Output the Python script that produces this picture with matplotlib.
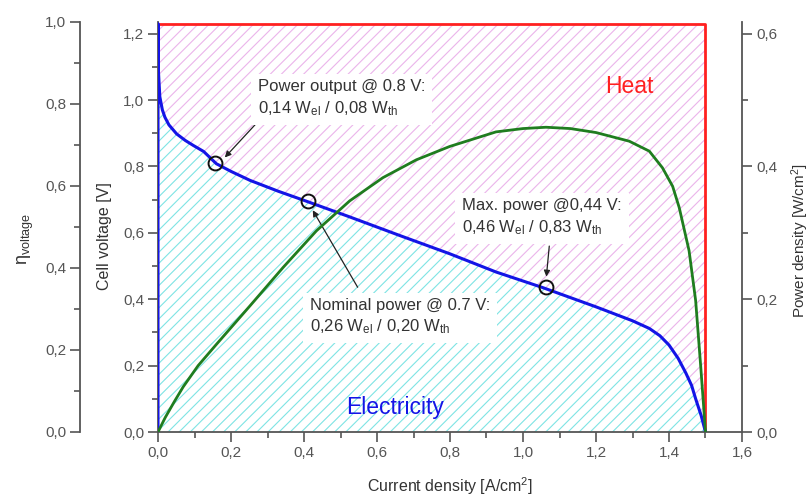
import matplotlib
matplotlib.use('Agg')
import numpy as np
import matplotlib.pyplot as plt
from matplotlib.ticker import MultipleLocator, FuncFormatter

plt.rcParams['font.family'] = ['Liberation Sans', 'DejaVu Sans']
plt.rcParams['mathtext.fontset'] = 'custom'
plt.rcParams['mathtext.rm'] = 'Liberation Sans'
plt.rcParams['mathtext.it'] = 'Liberation Sans:italic'
plt.rcParams['hatch.linewidth'] = 0.8

# ---- data ----
E_rev = 1.23          # reversible cell voltage [V]
i_limit = 1.5         # limiting current density [A/cm2]

current = [0.0, 0.001, 0.005, 0.012, 0.019, 0.03, 0.051, 0.075, 0.097, 0.125, 0.16,
           0.2, 0.252, 0.33, 0.407, 0.525, 0.662, 0.799, 0.926, 1.054, 1.2,
           1.3, 1.346, 1.375, 1.4, 1.425, 1.446, 1.462, 1.473, 1.488, 1.5]
voltage = [1.23, 1.09, 1.01, 0.97, 0.948, 0.925, 0.898, 0.878, 0.863, 0.845, 0.808,
           0.785, 0.758, 0.725, 0.695, 0.648, 0.592, 0.537, 0.482, 0.435, 0.377,
           0.335, 0.312, 0.29, 0.262, 0.222, 0.178, 0.14, 0.1, 0.05, 0.0]

current_p = [0.0, 0.02, 0.045, 0.069, 0.11, 0.16, 0.252, 0.343, 0.434, 0.525, 0.616, 0.708,
             0.799, 0.926, 1.0, 1.063, 1.13, 1.2, 1.291, 1.346, 1.382, 1.41, 1.428, 1.455,
             1.473, 1.487, 1.5]
power = [0.0, 0.022, 0.046, 0.068, 0.1, 0.132, 0.19, 0.248, 0.303, 0.348, 0.383, 0.41,
         0.43, 0.452, 0.457, 0.459, 0.457, 0.451, 0.438, 0.423, 0.398, 0.37, 0.338, 0.273,
         0.198, 0.098, 0.0]

marker_i = [0.156, 0.41, 1.062]
marker_v = [0.809, 0.695, 0.436]

notes = ["Power output @ 0.8 V:\n0,14 W$_{\\mathrm{el}}$ / 0,08 W$_{\\mathrm{th}}$",
         "Nominal power @ 0.7 V:\n0,26 W$_{\\mathrm{el}}$ / 0,20 W$_{\\mathrm{th}}$",
         "Max. power @0,44 V:\n0,46 W$_{\\mathrm{el}}$ / 0,83 W$_{\\mathrm{th}}$"]

# ---- styles ----
gray = '#555555'
blue = '#1414e6'
green = '#1f7d1f'
red = '#ff2020'
cyan = '#7ee4e4'
pink = '#ebb4eb'

fig = plt.figure(figsize=(8.12, 4.97), dpi=100)
ax = fig.add_axes([158/812, 65/497, 584/812, 410/497])

ax.fill_between(current, 0, voltage, facecolor='none', edgecolor=cyan,
                hatch='///', linewidth=0)
ax.fill_between(current, voltage, E_rev, facecolor='none', edgecolor=pink,
                hatch='///', linewidth=0)

ax.plot([0, i_limit, i_limit], [E_rev, E_rev, 0], color=red, lw=2.0, zorder=3)
ax.plot([0] + current, [0] + voltage, color=blue, lw=2.2, zorder=4)
ax.plot(marker_i, marker_v, 'o', mfc='none', mec='#111111', ms=10, mew=1.4, zorder=6)

fmt = FuncFormatter(lambda v, p: f"{v:.1f}".replace('.', ','))

ax.set_xlim(0, 1.6)
ax.set_ylim(0, 1.235)
ax.xaxis.set_major_locator(MultipleLocator(0.2))
ax.xaxis.set_minor_locator(MultipleLocator(0.1))
ax.yaxis.set_major_locator(MultipleLocator(0.2))
ax.yaxis.set_minor_locator(MultipleLocator(0.1))
ax.xaxis.set_major_formatter(fmt)
ax.yaxis.set_major_formatter(fmt)
for s in ['top', 'right']:
    ax.spines[s].set_visible(False)
for s in ['left', 'bottom']:
    ax.spines[s].set_color(gray)
    ax.spines[s].set_linewidth(1.3)
ax.tick_params(which='major', direction='out', length=7, width=1.2, colors=gray,
               labelsize=11, pad=3)
ax.tick_params(which='minor', direction='out', length=4, width=1.2, colors=gray)
ax.set_xlabel('Current density [A/cm$^2$]', fontsize=11.5, color='#333333')
ax.set_ylabel('Cell voltage [V]', fontsize=11.5, color='#333333')
ax.xaxis.set_label_coords(0.5, -0.105)
ax.yaxis.set_label_coords(-0.079, 0.478)

# power axis (right)
axp = ax.twinx()
axp.plot(current_p, power, color=green, lw=2.0, zorder=5)
axp.set_ylim(0, 0.6175)
axp.yaxis.set_major_locator(MultipleLocator(0.2))
axp.yaxis.set_minor_locator(MultipleLocator(0.1))
axp.yaxis.set_major_formatter(fmt)
for s in ['top', 'left', 'bottom']:
    axp.spines[s].set_visible(False)
axp.spines['right'].set_color(gray)
axp.spines['right'].set_linewidth(1.3)
axp.tick_params(which='major', direction='out', length=7, width=1.2, colors=gray,
                labelsize=11, pad=3)
axp.tick_params(which='minor', direction='out', length=4, width=1.2, colors=gray)
axp.set_ylabel('Power density [W/cm$^2$]', fontsize=11, color='#333333')
axp.yaxis.set_label_coords(1.082, 0.468)

# efficiency axis (far left)
axe = ax.twinx()
axe.set_ylim(0, 1.0)
axe.yaxis.tick_left()
axe.yaxis.set_label_position('left')
axe.spines['left'].set_position(('axes', -78/584))
for s in ['top', 'right', 'bottom']:
    axe.spines[s].set_visible(False)
axe.spines['left'].set_visible(True)
axe.spines['left'].set_color(gray)
axe.spines['left'].set_linewidth(1.3)
axe.yaxis.set_major_locator(MultipleLocator(0.2))
axe.yaxis.set_minor_locator(MultipleLocator(0.1))
axe.yaxis.set_major_formatter(fmt)
axe.tick_params(which='major', direction='out', length=7, width=1.2, colors=gray,
                labelsize=11, pad=3)
axe.tick_params(which='minor', direction='out', length=4, width=1.2, colors=gray)
axe.set_ylabel('η$_{\\mathrm{voltage}}$', fontsize=13, color='#333333')
axe.yaxis.set_label_coords(-0.209, 0.47)

# annotations
text_pos = [(0.274, 1.005), (0.416, 0.346), (0.834, 0.647)]
arrow_tail = [(0.274, 0.935), (0.547, 0.436), (1.072, 0.56)]
arrow_head = [(0.183, 0.827), (0.424, 0.668), (1.064, 0.468)]
for t, tp, tail, head in zip(notes, text_pos, arrow_tail, arrow_head):
    ax.annotate('', xy=head, xytext=tail,
                arrowprops=dict(arrowstyle='-|>', color='#222222', lw=0.9,
                                mutation_scale=9, shrinkA=0, shrinkB=0), zorder=7)
    ax.text(tp[0], tp[1], t, ha='left', va='center', fontsize=12, color='#333333',
            linespacing=1.35, zorder=8,
            bbox=dict(facecolor='white', edgecolor='none', pad=5))

ax.text(1.29, 1.04, 'Heat', color=red, fontsize=16.5, ha='center', va='center', zorder=8)
ax.text(0.65, 0.075, 'Electricity', color=blue, fontsize=16.5, ha='center', va='center', zorder=8)

fig.savefig('out.png', dpi=100)
